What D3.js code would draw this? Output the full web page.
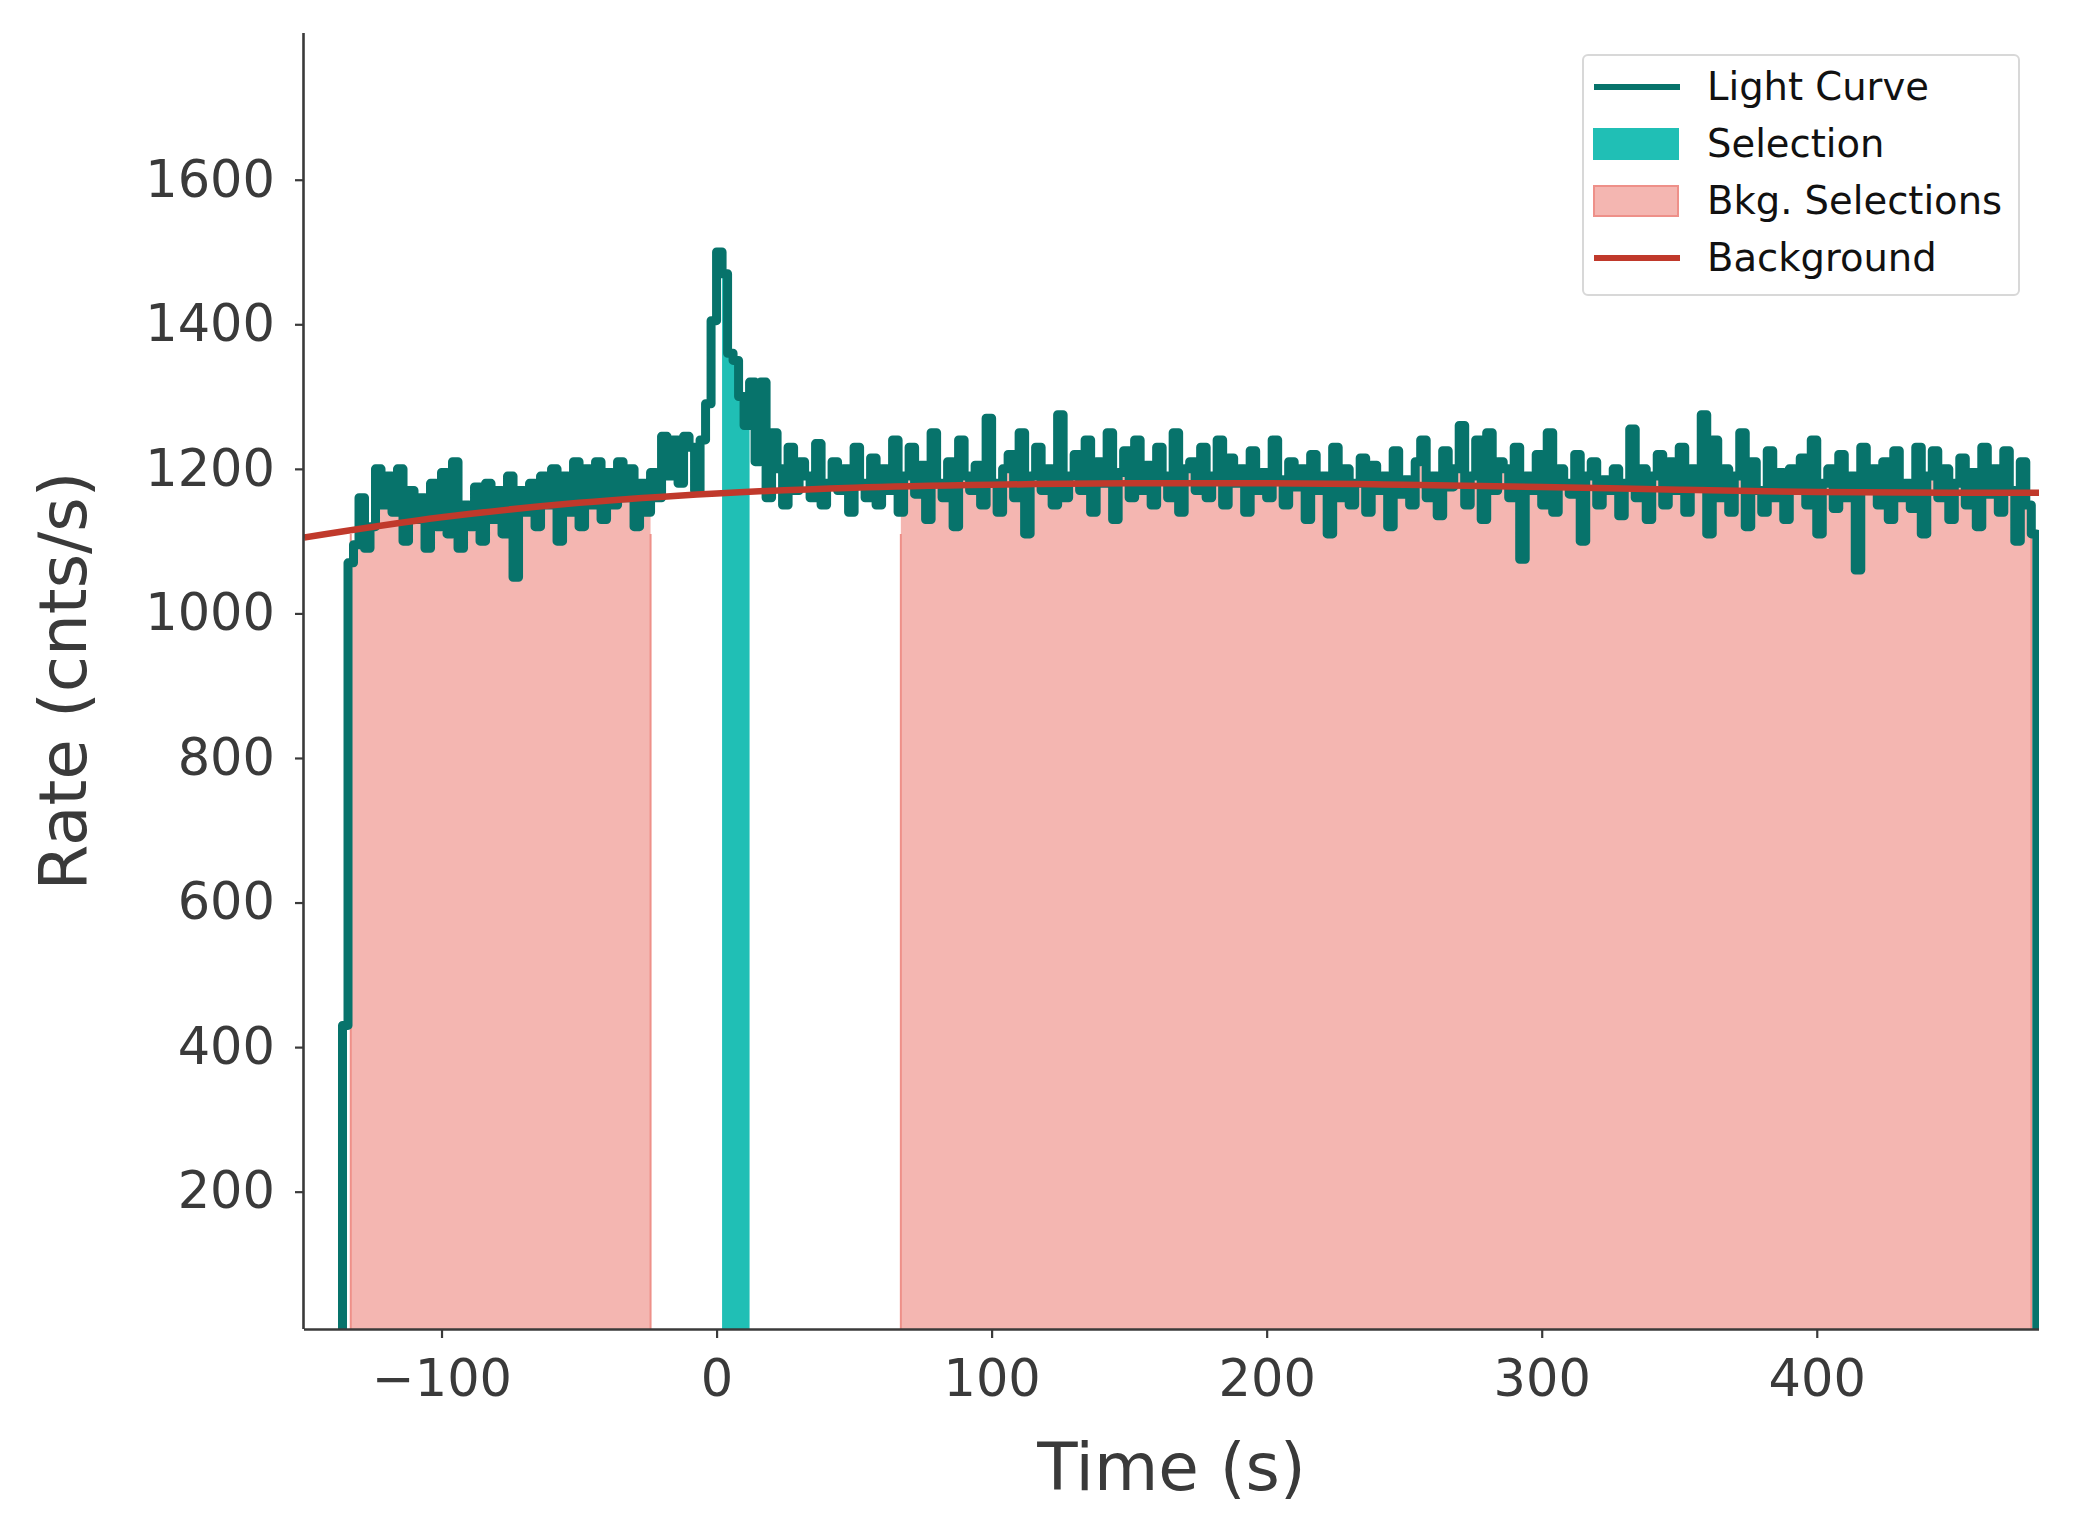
<!DOCTYPE html>
<html><head><meta charset="utf-8">
<script src="https://cdn.jsdelivr.net/npm/d3@7"></script>
<style>body{margin:0;background:#fff}</style></head>
<body><svg id="chart" width="2073" height="1540"></svg>
<script>
// light curve: 2 s bins starting at T0
const T0 = -136, DT = 2;
const rates = [
430,1070,1095,1160,1090,1120,1200,1150,1190,1140,1200,1100,1170,1130,1160,1090,1180,1120,1195,1110,
1210,1090,1150,1120,1175,1100,1180,1130,1170,1110,1190,1050,1170,1140,1180,1120,1190,1150,1200,1100,
1190,1140,1210,1120,1200,1150,1210,1130,1195,1150,1210,1160,1200,1120,1180,1140,1195,1160,1245,1190,
1240,1180,1245,1230,1170,1240,1290,1405,1500,1470,1360,1350,1300,1260,1320,1210,1320,1160,1250,1200,
1150,1230,1170,1210,1190,1160,1235,1150,1180,1210,1170,1200,1140,1230,1180,1160,1215,1150,1200,1170,
1240,1140,1190,1230,1165,1205,1130,1250,1180,1160,1210,1120,1240,1190,1170,1205,1150,1270,1180,1140,
1200,1220,1160,1250,1110,1190,1230,1170,1200,1150,1275,1160,1190,1220,1170,1240,1140,1210,1180,1250,
1130,1195,1225,1160,1240,1170,1205,1150,1230,1190,1160,1250,1140,1200,1210,1170,1230,1160,1190,1240,
1150,1215,1180,1200,1140,1225,1170,1195,1160,1240,1185,1150,1210,1175,1200,1130,1220,1170,1190,1110,
1230,1160,1200,1150,1180,1215,1140,1205,1170,1190,1120,1225,1165,1185,1150,1210,1240,1160,1190,1135,
1225,1175,1200,1260,1150,1190,1240,1130,1250,1170,1210,1200,1160,1230,1075,1190,1170,1220,1150,1250,
1140,1200,1180,1165,1220,1100,1190,1210,1150,1185,1170,1200,1135,1180,1255,1160,1200,1130,1190,1220,
1150,1210,1170,1230,1140,1200,1180,1275,1110,1240,1160,1200,1140,1190,1250,1120,1210,1170,1140,1225,
1160,1195,1130,1200,1170,1215,1150,1240,1110,1180,1200,1145,1220,1160,1190,1060,1230,1170,1200,1150,
1210,1130,1225,1160,1180,1145,1230,1110,1190,1225,1160,1200,1130,1180,1215,1150,1195,1120,1230,1165,
1200,1140,1225,1170,1100,1210,1150,1110,0
];
const bkgIntervals = [[-133, -24], [67, 478]];
const selection = [2, 12];
// background polynomial fit, sampled
const bkgT = [-150, -100, -50, 0, 50, 100, 150, 200, 250, 300, 350, 400, 450, 481];
const bkgR = [1105, 1133, 1153, 1166, 1174, 1178, 1180, 1180, 1178, 1175, 1171, 1168, 1167, 1167];
const xTicks = [-100, 0, 100, 200, 300, 400];
const yTicks = [200, 400, 600, 800, 1000, 1200, 1400, 1600];
const legendItems = ['Light Curve', 'Selection', 'Bkg. Selections', 'Background'];

const pts = [{t: T0, r: 0}].concat(rates.map((r, i) => ({t: T0 + i * DT, r})));
pts.push({t: T0 + rates.length * DT, r: 0});

const svg = d3.select('#chart');
const L = 304, R = 2039, T = 33, B = 1329;
const x = d3.scaleLinear().domain([-150, 480.8]).range([L, R]);
const y = d3.scaleLinear().domain([10, 1803]).range([B, T]);
const ink = '#3a3a3a';
const font = 'DejaVu Sans';

const defs = svg.append('defs');
const clip = (id, [a, b]) => defs.append('clipPath').attr('id', id).append('rect')
  .attr('x', x(a)).attr('y', T).attr('width', x(b) - x(a)).attr('height', B - T);
clip('bk0', bkgIntervals[0]); clip('bk1', bkgIntervals[1]); clip('sel', selection);
defs.append('clipPath').attr('id', 'plot').append('rect')
  .attr('x', L).attr('y', T).attr('width', R - L).attr('height', B - T);

const area = d3.area().curve(d3.curveStepAfter).x(d => x(d.t)).y0(B).y1(d => y(d.r));
const line = d3.line().curve(d3.curveStepAfter).x(d => x(d.t)).y(d => y(d.r));

const g = svg.append('g').attr('clip-path', 'url(#plot)');
['bk0', 'bk1'].forEach((id, i) => {
  g.append('path').attr('d', area(pts)).attr('fill', '#f4b6b1').attr('clip-path', `url(#${id})`);
  bkgIntervals[i].forEach(v => g.append('line').attr('x1', x(v)).attr('x2', x(v))
    .attr('y1', B).attr('y2', y(1110)).attr('stroke', '#ee9089').attr('stroke-width', 2));
});
g.append('path').attr('d', area(pts)).attr('fill', '#20bfb5').attr('clip-path', 'url(#sel)');
g.append('path').attr('d', line(pts)).attr('fill', 'none').attr('stroke', '#07736b')
  .attr('stroke-width', 9).attr('stroke-linejoin', 'round');
g.append('path').attr('d', d3.line().curve(d3.curveMonotoneX).x(t => x(t)).y((t, i) => y(bkgR[i]))(bkgT))
  .attr('fill', 'none').attr('stroke', '#c0392b').attr('stroke-width', 6.5);

const xa = svg.append('g').attr('transform', `translate(0,${B})`)
  .call(d3.axisBottom(x).tickValues(xTicks).tickSize(9).tickPadding(22).tickFormat(d => d < 0 ? '\u2212' + (-d) : d));
const ya = svg.append('g').attr('transform', `translate(${L},0)`)
  .call(d3.axisLeft(y).tickValues(yTicks).tickSize(9).tickPadding(20).tickFormat(d => d));
[xa, ya].forEach(a => {
  a.select('.domain').attr('stroke', ink).attr('stroke-width', 2.6);
  a.selectAll('.tick line').attr('stroke', ink).attr('stroke-width', 2.2);
  a.selectAll('text').attr('fill', ink).style('font-family', font).style('font-size', '51px');
});
ya.select('.domain').attr('d', `M-0.5,${B}V${T}`);
xa.select('.domain').attr('d', `M${L},0.5H${R}`);

svg.append('text').attr('x', (L + R) / 2).attr('y', 1490).attr('text-anchor', 'middle')
  .attr('fill', ink).style('font-family', font).style('font-size', '66px').text('Time (s)');
svg.append('text').attr('transform', `translate(86,${(T + B) / 2}) rotate(-90)`).attr('text-anchor', 'middle')
  .attr('fill', ink).style('font-family', font).style('font-size', '66px').text('Rate (cnts/s)');

const lg = svg.append('g').attr('transform', 'translate(1583,55)');
lg.append('rect').attr('width', 436).attr('height', 240).attr('rx', 5)
  .attr('fill', '#fff').attr('fill-opacity', 0.85).attr('stroke', '#d8d8d8').attr('stroke-width', 2);
legendItems.forEach((name, i) => {
  const yy = 32 + i * 57;
  const it = lg.append('g').attr('transform', `translate(11,${yy})`);
  if (i === 0 || i === 3) it.append('line').attr('x1', 0).attr('x2', 86).attr('stroke', i ? '#c0392b' : '#07736b').attr('stroke-width', 6);
  else it.append('rect').attr('y', -15).attr('width', 84).attr('height', 30)
    .attr('fill', i === 1 ? '#20bfb5' : '#f4b6b1').attr('stroke', i === 1 ? '#20bfb5' : '#ee9089').attr('stroke-width', 2);
  it.append('text').attr('x', 113).attr('dy', '0.35em').style('font-family', font).style('font-size', '38.5px')
    .attr('fill', '#111').text(name);
});
</script></body></html>
